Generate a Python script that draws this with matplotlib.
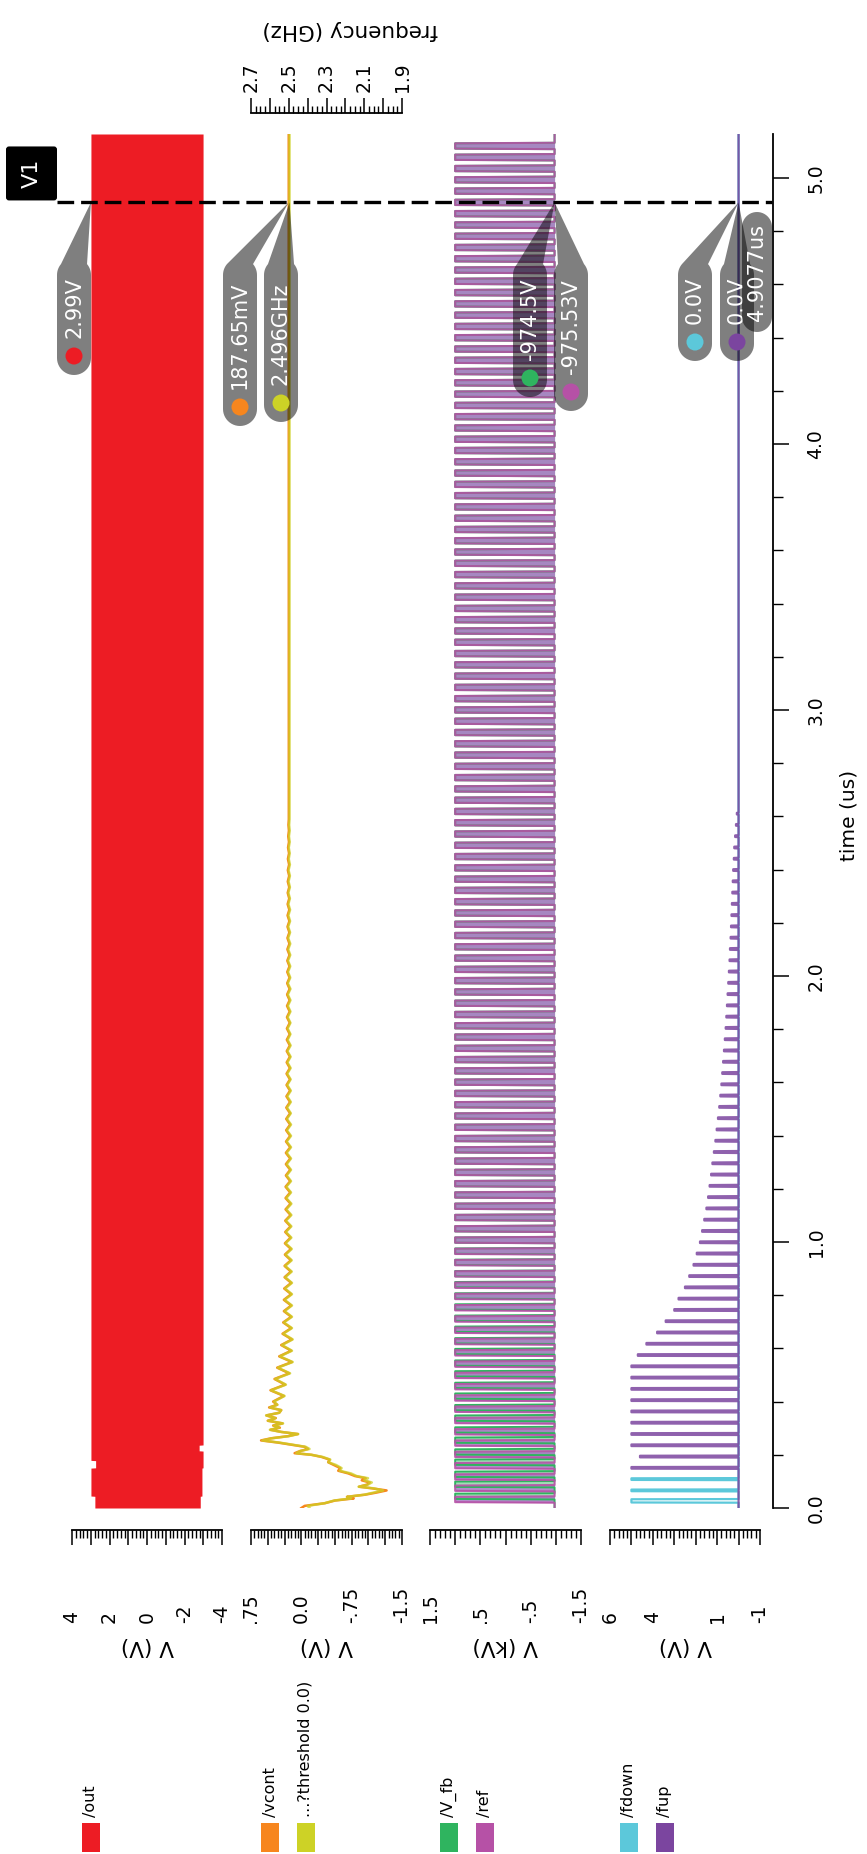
import numpy as np
import matplotlib
matplotlib.use("Agg")
import matplotlib.pyplot as plt
from matplotlib.patches import Rectangle, FancyBboxPatch, Circle, Polygon
from matplotlib.transforms import blended_transform_factory as blend
from matplotlib.ticker import MultipleLocator

plt.rcParams['font.family'] = ['DejaVu Sans']
plt.rcParams['lines.scale_dashes'] = False

# ---------------- waveform data (time in us) ----------------
T_END = 5.165
CURSOR_T = 4.9077

# /out : envelope of the output swing (V)
out_t  = [0.000, 0.044, 0.045, 0.150, 0.151, 0.178, 0.179, 0.214, 0.215, 0.236, 0.237, T_END]
out_hi = [2.78, 2.78, 2.99, 2.99, 2.74, 2.74, 2.99, 2.99, 2.99, 2.99, 2.99, 2.99]
out_lo = [-2.84, -2.84, -2.93, -2.93, -2.99, -2.99, -2.99, -2.99, -2.78, -2.78, -2.99, -2.99]

# /vcont (V) and output frequency (GHz) during acquisition
acq_t = [0.000, 0.008, 0.018, 0.028, 0.036, 0.042, 0.050, 0.058, 0.066, 0.074,
         0.080, 0.088, 0.096, 0.104, 0.112, 0.120, 0.130, 0.140, 0.150, 0.162,
         0.172, 0.182, 0.192, 0.200, 0.206, 0.214, 0.222, 0.230, 0.238, 0.246,
         0.254, 0.262, 0.270, 0.278, 0.286, 0.294, 0.302, 0.310, 0.318, 0.328,
         0.338, 0.348, 0.358, 0.368, 0.378, 0.388]
vcont_acq = [0.00, -0.05, -0.35, -0.50, -0.78, -0.68, -0.95, -1.12, -1.27, -1.05,
             -0.86, -0.98, -1.02, -0.90, -0.96, -0.80, -0.70, -0.55, -0.58, -0.48,
             -0.40, -0.42, -0.30, -0.15, 0.10, 0.02, -0.10, -0.05, 0.15, 0.35,
             0.60, 0.45, 0.20, 0.05, 0.30, 0.46, 0.32, 0.42, 0.28, 0.50,
             0.38, 0.52, 0.33, 0.30, 0.48, 0.36]
freq_acq = [2.39, 2.40, 2.31, 2.26, 2.17, 2.19, 2.10, 2.05, 2.00, 2.05,
            2.13, 2.08, 2.06, 2.10, 2.08, 2.14, 2.17, 2.23, 2.22, 2.25,
            2.29, 2.28, 2.32, 2.38, 2.46, 2.44, 2.39, 2.41, 2.48, 2.55,
            2.64, 2.59, 2.50, 2.45, 2.54, 2.60, 2.55, 2.58, 2.53, 2.61,
            2.57, 2.62, 2.55, 2.54, 2.60, 2.56]

# settling ripple, sampled every half reference period
RIPPLE_T0 = 0.40
RIPPLE_DT = 0.02125
vcont_ripple = [
    0.42, 0.26, 0.46, 0.24, 0.40, 0.18, 0.36, 0.14, 0.33, 0.15, 0.30, 0.14, 0.28, 0.15,
    0.27, 0.15, 0.26, 0.15, 0.26, 0.15, 0.255, 0.15, 0.25, 0.155, 0.25, 0.155, 0.245, 0.155,
    0.245, 0.16, 0.24, 0.16, 0.24, 0.16, 0.235, 0.16, 0.235, 0.165, 0.235, 0.165, 0.23, 0.165,
    0.23, 0.165, 0.23, 0.165, 0.228, 0.166, 0.226, 0.166, 0.225, 0.167, 0.224, 0.168, 0.222, 0.168,
    0.22, 0.169, 0.22, 0.17, 0.218, 0.17, 0.217, 0.171, 0.216, 0.172, 0.215, 0.172, 0.214, 0.173,
    0.213, 0.174, 0.212, 0.174, 0.211, 0.175, 0.21, 0.176, 0.209, 0.176, 0.208, 0.177, 0.207, 0.178,
    0.206, 0.178, 0.205, 0.179, 0.204, 0.18, 0.203, 0.18, 0.202, 0.181, 0.201, 0.182, 0.2, 0.183,
    0.198, 0.184, 0.195, 0.185, 0.192, 0.1865]
freq_ripple = [
    2.579, 2.522, 2.594, 2.515, 2.572, 2.493, 2.558, 2.479, 2.547, 2.483, 2.536, 2.479, 2.529, 2.483,
    2.526, 2.483, 2.522, 2.483, 2.522, 2.483, 2.520, 2.483, 2.519, 2.484, 2.519, 2.484, 2.517, 2.484,
    2.517, 2.486, 2.515, 2.486, 2.515, 2.486, 2.513, 2.486, 2.513, 2.488, 2.513, 2.488, 2.511, 2.488,
    2.511, 2.488, 2.511, 2.488, 2.511, 2.488, 2.510, 2.488, 2.510, 2.489, 2.509, 2.489, 2.508, 2.489,
    2.508, 2.490, 2.508, 2.490, 2.507, 2.490, 2.507, 2.490, 2.506, 2.491, 2.506, 2.491, 2.506, 2.491,
    2.505, 2.491, 2.505, 2.491, 2.505, 2.492, 2.504, 2.492, 2.504, 2.492, 2.503, 2.492, 2.503, 2.493,
    2.503, 2.493, 2.502, 2.493, 2.502, 2.494, 2.502, 2.494, 2.501, 2.494, 2.501, 2.494, 2.500, 2.495,
    2.500, 2.495, 2.499, 2.495, 2.498, 2.496]
VCONT_FINAL = 0.18765
FREQ_FINAL = 2.496

# reference / feedback clocks (kV)
REF_T0 = 0.02
REF_PERIOD = 0.0424
REF_PULSE = 0.024
REF_HI, REF_LO = 1.0, -0.97553
FB_HI, FB_LO = 1.0, -0.9745
fb_delay = [0.012, 0.015, 0.010, 0.013, 0.009, 0.011, 0.007, 0.009, 0.006, 0.007,
            0.005, 0.006, 0.004, 0.005, 0.003, 0.004, 0.003, 0.003, 0.002, 0.002,
            0.001, 0.001, 0.001, 0.0]

# phase detector outputs (V)
fdown_width = [0.012, 0.006, 0.006]
fdown_height = [5.0, 5.0, 5.0]
fup_height = [5.0, 4.6, 5.0, 5.0, 5.0, 5.0, 5.0, 5.0, 5.0, 5.0,
              4.7, 4.3, 3.8, 3.4, 3.0, 2.8, 2.5, 2.3, 2.1, 1.95,
              1.8, 1.7, 1.6, 1.5, 1.42, 1.35, 1.28, 1.22, 1.15, 1.08,
              1.02, 0.96, 0.9, 0.85, 0.8, 0.76, 0.72, 0.68, 0.64, 0.6,
              0.57, 0.54, 0.51, 0.48, 0.45, 0.42, 0.4, 0.37, 0.35, 0.33,
              0.31, 0.29, 0.27, 0.25, 0.22, 0.2, 0.16, 0.12, 0.08]
FUP_WIDTH = 0.006

# colours
C_OUT = '#ED1C24'
C_VCONT = '#F7861E'
C_FREQ = '#CDD226'
C_VFB = '#2FB45F'
C_REF = '#B651A6'
C_FDOWN = '#5CC8DA'
C_FUP = '#7B459F'

# value-axis definitions: limits (left, right), major, minor, labelled ticks, axis title
panels = [
    dict(lim=(4, -4), major=1, minor=0.2, ticks=[4, 2, 0, -2, -4],
         labels=["4", "2", "0", "-2", "-4"], title="V (V)"),
    dict(lim=(0.75, -1.5), major=0.25, minor=0.05, ticks=[0.75, 0.0, -0.75, -1.5],
         labels=[".75", "0.0", "-.75", "-1.5"], title="V (V)"),
    dict(lim=(1.5, -1.5), major=0.5, minor=0.1, ticks=[1.5, 0.5, -0.5, -1.5],
         labels=["1.5", ".5", "-.5", "-1.5"], title="V (kV)"),
    dict(lim=(6, -1), major=1, minor=0.2, ticks=[6, 4, 1, -1],
         labels=["6", "4", "1", "-1"], title="V (V)"),
]
freq_lim = (2.7, 1.9)
freq_ticks = [2.7, 2.5, 2.3, 2.1, 1.9]
freq_labels = ["2.7", "2.5", "2.3", "2.1", "1.9"]
time_ticks = [0, 1, 2, 3, 4, 5]
time_labels = ["0.0", "1.0", "2.0", "3.0", "4.0", "5.0"]

legend_groups = [
    [("/out", C_OUT)],
    [("/vcont", C_VCONT), ("...?threshold 0.0)", C_FREQ)],
    [("/V_fb", C_VFB), ("/ref", C_REF)],
    [("/fdown", C_FDOWN), ("/fup", C_FUP)],
]

# ---------------- layout (pixels) ----------------
W, H, DPI = 867, 1854, 100
PLOT_TOP, PLOT_BOT = 134, 1508
panel_x = [(72, 222), (251, 402), (430, 581), (610, 760)]
PT = 72.0 / DPI  # points per pixel


def fy(py):
    return 1 - py / H


def pulse_train(starts, widths, heights, base, edge, t_end):
    t, v = [0.0], [base]
    for s, w, h in zip(starts, widths, heights):
        t += [s, s + edge, s + edge + w, s + 2 * edge + w]
        v += [base, h, h, base]
    t.append(t_end)
    v.append(base)
    return np.array(t), np.array(v)


fig = plt.figure(figsize=(W / DPI, H / DPI), dpi=DPI)
axes = []
for (x0, x1), spec in zip(panel_x, panels):
    ax = fig.add_axes([x0 / W, fy(PLOT_BOT), (x1 - x0) / W, (PLOT_BOT - PLOT_TOP) / H])
    ax.set_xlim(*spec['lim'])
    ax.set_ylim(0, T_END)
    ax.patch.set_alpha(0)
    for s in ['top', 'left', 'right']:
        ax.spines[s].set_visible(False)
    ax.spines['bottom'].set_position(('outward', 22 * PT))
    ax.spines['bottom'].set_linewidth(1.3)
    ax.xaxis.set_major_locator(MultipleLocator(spec['major']))
    ax.xaxis.set_minor_locator(MultipleLocator(spec['minor']))
    ax.tick_params(axis='x', which='major', direction='out', length=15 * PT, width=1.1,
                   top=False, labelbottom=False)
    ax.tick_params(axis='x', which='minor', direction='out', length=8 * PT, width=1.0, top=False)
    ax.set_yticks([])
    tr = blend(ax.transData, fig.transFigure)
    for v, lbl in zip(spec['ticks'], spec['labels']):
        ax.text(v, fy(1623), lbl, transform=tr, rotation=90, ha='center', va='bottom',
                fontsize=13.5)
    fig.text((x0 + x1) / 2 / W, fy(1646), spec['title'], rotation=180,
             ha='center', va='center', fontsize=15.5)
    axes.append(ax)

ax1, ax2, ax3, ax4 = axes

# panel 1: /out
ax1.fill_betweenx(out_t, out_lo, out_hi, color=C_OUT, lw=0)

# panel 2: /vcont and frequency
ripple_t = RIPPLE_T0 + RIPPLE_DT * np.arange(len(vcont_ripple))
vc_t = np.concatenate([acq_t, ripple_t, [T_END]])
vc_v = np.concatenate([vcont_acq, vcont_ripple, [VCONT_FINAL]])
fq_v = np.concatenate([freq_acq, freq_ripple, [FREQ_FINAL]])
ax2.plot(vc_v, vc_t, color=C_VCONT, lw=1.8)

ax2f = ax2.twiny()
ax2f.set_xlim(*freq_lim)
ax2f.set_ylim(0, T_END)
for s in ['bottom', 'left', 'right']:
    ax2f.spines[s].set_visible(False)
ax2f.spines['top'].set_position(('outward', 21 * PT))
ax2f.spines['top'].set_linewidth(1.3)
ax2f.xaxis.set_major_locator(MultipleLocator(0.1))
ax2f.xaxis.set_minor_locator(MultipleLocator(0.025))
ax2f.tick_params(axis='x', which='major', direction='out', length=15 * PT, width=1.1,
                 top=True, bottom=False, labeltop=False, labelbottom=False)
ax2f.tick_params(axis='x', which='minor', direction='out', length=7 * PT, width=1.0,
                 top=True, bottom=False)
ax2f.plot(fq_v, vc_t, color=C_FREQ, lw=1.8, alpha=0.75)
trf = blend(ax2f.transData, fig.transFigure)
for v, lbl in zip(freq_ticks, freq_labels):
    ax2f.text(v, fy(92), lbl, transform=trf, rotation=90, ha='center', va='bottom',
              fontsize=13.5)
fig.text(350 / W, fy(30), "frequency (GHz)", rotation=180, ha='center', va='center',
         fontsize=15.5)

# panel 3: feedback and reference clocks
n_ref = int((T_END - REF_T0 - REF_PULSE) / REF_PERIOD) + 1
ref_starts = REF_T0 + REF_PERIOD * np.arange(n_ref)
fb_starts = ref_starts + np.array(fb_delay + [0.0] * (n_ref - len(fb_delay)))
fb_t, fb_v = pulse_train(fb_starts, [REF_PULSE - 0.004] * n_ref, [FB_HI] * n_ref,
                         FB_LO, 0.002, T_END)
ref_t, ref_v = pulse_train(ref_starts, [REF_PULSE - 0.004] * n_ref, [REF_HI] * n_ref,
                           REF_LO, 0.002, T_END)
ax3.fill_betweenx(fb_t, FB_LO, fb_v, color=C_VFB, alpha=0.45, lw=0)
ax3.plot(fb_v, fb_t, color=C_VFB, lw=1.4, solid_capstyle='round', solid_joinstyle='round')
ax3.fill_betweenx(ref_t, REF_LO, ref_v, color='#A878C4', alpha=0.85, lw=0)
ax3.plot(ref_v, ref_t, color=C_REF, lw=1.5, alpha=0.9, solid_capstyle='round',
         solid_joinstyle='round')

# panel 4: phase detector pulses
fd_t, fd_v = pulse_train(ref_starts[:3], fdown_width, fdown_height, 0.0, 0.0008, T_END)
fu_starts = ref_starts[3:3 + len(fup_height)]
fu_t, fu_v = pulse_train(fu_starts, [FUP_WIDTH] * len(fup_height), fup_height, 0.0, 0.0008, T_END)
ax4.plot(fd_v, fd_t, color=C_FDOWN, lw=1.6)
ax4.plot(fu_v, fu_t, color=C_FUP, lw=1.6, alpha=0.85)

# time axis on the right of the last panel
ax4.spines['right'].set_visible(True)
ax4.spines['right'].set_position(('outward', 13 * PT))
ax4.spines['right'].set_linewidth(1.3)
ax4.yaxis.set_major_locator(MultipleLocator(1))
ax4.yaxis.set_minor_locator(MultipleLocator(0.2))
ax4.tick_params(axis='y', which='major', direction='out', length=16 * PT, width=1.1,
                left=False, right=True, labelleft=False, labelright=False)
ax4.tick_params(axis='y', which='minor', direction='out', length=10 * PT, width=1.0,
                left=False, right=True)
trt = blend(fig.transFigure, ax4.transData)
for t, lbl in zip(time_ticks, time_labels):
    ax4.text(816 / W, t, lbl, transform=trt, rotation=90, ha='center', va='center',
             fontsize=13.5)
fig.text(849 / W, fy(815), "time (us)", rotation=90, ha='center', va='center', fontsize=14.5)

# ---------------- overlay in pixel coordinates ----------------
ov = fig.add_axes([0, 0, 1, 1])
ov.set_xlim(0, W)
ov.set_ylim(H, 0)
ov.axis('off')
ov.set_zorder(10)


def to_ov(ax, x, y):
    return ov.transData.inverted().transform(ax.transData.transform((x, y)))


# legend swatches
for (x0, _), group in zip(panel_x, legend_groups):
    for i, (name, col) in enumerate(group):
        sx = x0 + 10 + 35.5 * i
        ov.add_patch(Rectangle((sx, 1823), 18, 29, fc=col, ec='none'))
        ov.text(sx + 9, 1817, name, rotation=90, ha='center', va='bottom', fontsize=11.5)

# cursor line and its tag
_, y_cur = to_ov(ax1, 0, CURSOR_T)
ov.plot([57, 772], [y_cur, y_cur], color='black', lw=2.4, dashes=(12, 5), zorder=1)
ov.add_patch(FancyBboxPatch((6, y_cur - 56), 51, 54, boxstyle='round,pad=0,rounding_size=3',
                            fc='black', ec='none', zorder=2))
ov.text(31.5, y_cur - 29, "V1", color='white', rotation=90, ha='center', va='center',
        fontsize=16, zorder=3)


def pill_polygon(cx, top, bottom, width, apex=None):
    r = width / 2.0
    ct, cb = top + r, bottom - r
    pts = []
    if apex is None:
        for a in np.linspace(np.pi, 0, 25):
            pts.append((cx + r * np.cos(a), ct - r * np.sin(a)))
    else:
        for a in np.linspace(np.pi, np.radians(140), 8):
            pts.append((cx + r * np.cos(a), ct - r * np.sin(a)))
        pts.append(tuple(apex))
        for a in np.linspace(np.radians(40), 0, 8):
            pts.append((cx + r * np.cos(a), ct - r * np.sin(a)))
    for a in np.linspace(0, -np.pi, 25):
        pts.append((cx + r * np.cos(a), cb - r * np.sin(a)))
    return pts


PILL_TOP, PILL_W = 258, 34
marker_layout = [
    (ax1, 2.99, "2.99V", C_OUT, 74, 356),
    (ax2, VCONT_FINAL, "187.65mV", C_VCONT, 240, 407),
    (ax2f, FREQ_FINAL, "2.496GHz", C_FREQ, 281, 403),
    (ax3, FB_LO, "-974.5V", C_VFB, 530, 378),
    (ax3, REF_LO, "-975.53V", C_REF, 571, 392),
    (ax4, 0.0, "0.0V", C_FDOWN, 695, 342),
    (ax4, 0.0, "0.0V", C_FUP, 737, 342),
]
for ax, val, txt, col, cx, cy in marker_layout:
    apex = to_ov(ax, val, CURSOR_T)
    ov.add_patch(Polygon(pill_polygon(cx, PILL_TOP, cy + 19, PILL_W, apex), closed=True,
                         fc='black', ec='none', alpha=0.5, zorder=3))
    ov.add_patch(Circle((cx, cy), 8.5, fc=col, ec='none', zorder=4))
    ov.text(cx, cy - 18, txt, rotation=90, ha='center', va='bottom', color='white',
            fontsize=15, zorder=5)

# time read-out of the cursor
ov.add_patch(Polygon(pill_polygon(757, 212, 332, 30), closed=True, fc='black', ec='none',
                     alpha=0.5, zorder=6))
ov.text(757, 272, "4.9077us", rotation=90, ha='center', va='center', color='white',
        fontsize=15, zorder=7)

fig.savefig("out.png", dpi=DPI)
